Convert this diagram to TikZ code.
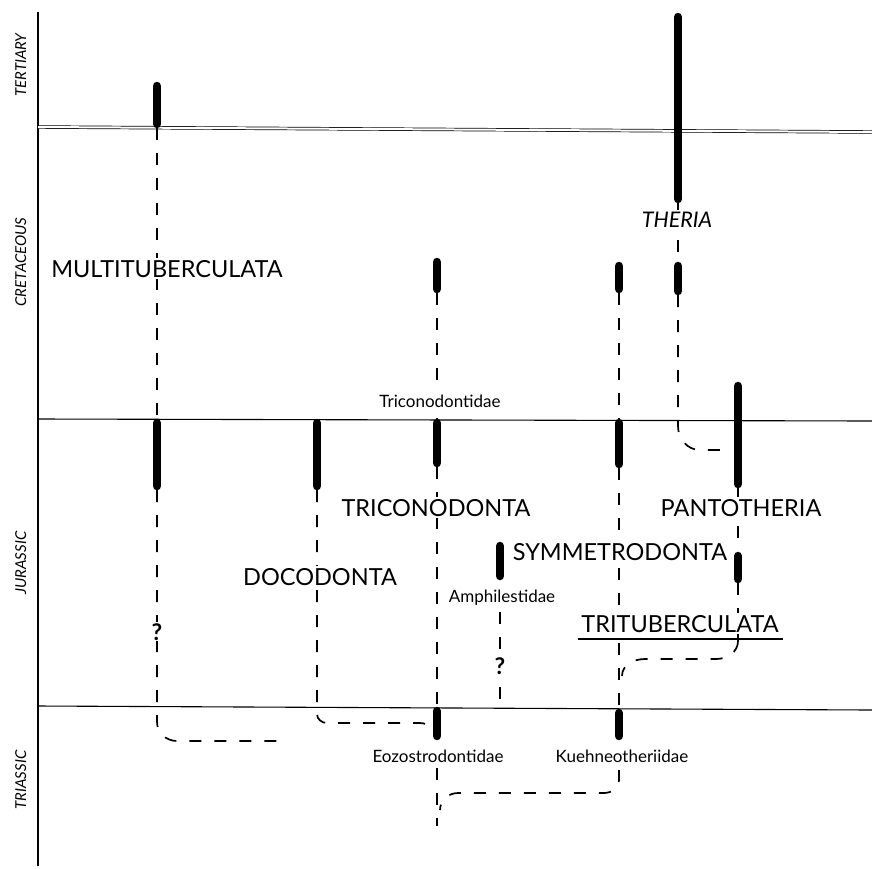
\documentclass[tikz,border=0pt]{standalone}
\usepackage{fontspec}
\setmainfont{Lato}
\usetikzlibrary{positioning}

\tikzset{
  bar/.style={line width=8.5pt, line cap=round},
  link/.style={line width=1.7pt, dash pattern=on 12pt off 13pt},
  era/.style={rotate=90, anchor=base, font=\fontsize{15}{17}\selectfont\itshape},
  taxon/.style={anchor=base, fill=white, inner sep=1.5pt, font=\fontsize{23.5}{27}\selectfont},
  family/.style={anchor=base, fill=white, inner sep=1.5pt, font=\fontsize{17}{19}\selectfont},
  query/.style={anchor=base, fill=white, inner sep=1pt, font=\fontsize{23}{25}\selectfont\bfseries}
}

\begin{document}
\begin{tikzpicture}[x=1pt, y=-1pt]
\useasboundingbox (0,0) rectangle (872,868);

% Time axis and period boundaries
\draw[line width=1.2pt] (38,12) -- (38,866);
\draw[double, double distance=2pt, line width=0.7pt] (38,127) -- (872,132);
\draw[line width=1.1pt] (38,419) -- (872,421);
\draw[line width=1.1pt] (38,706) -- (872,710);

% Periods
\node[era] (tert) at (26,65) {TERTIARY};
\node[era] (cret) at (26,262) {CRETACEOUS};
\node[era] (jura) at (26,563) {JURASSIC};
\node[era] (tria) at (26,780) {TRIASSIC};

% Dashed lineages
\foreach \x/\ya/\yb in {157/128/420, 437/293/420, 437/467/707, 437/768/826,
                        500/612/707, 619/293/420, 619/468/707, 678/203/228,
                        678/240/252, 738/488/500, 738/526/540, 738/583/641} {
    \draw[link] (\x,\ya) -- (\x,\yb);
}
\draw[link] (157,490) -- (157,722) to[out=-90,in=180] (177,741) -- (286,741);
\draw[link] (317,490) -- (317,714) to[out=-90,in=180] (327,723) -- (420,723) to[out=0,in=90] (435,737);
\draw[link] (619,770) -- (619,780) to[out=-90,in=0] (604,793) -- (458,793) to[out=180,in=90] (440,810);
\draw[link] (678,295) -- (678,426) to[out=-90,in=180] (700,450) -- (722,450);
\draw[link] (738,641) to[out=-90,in=0] (716,659) -- (645,659) to[out=180,in=90] (622,676);

% Known ranges
\foreach \x/\ya/\yb in {157/86/124, 678/17/199, 437/262/289, 619/266/289,
                        678/266/291, 738/386/484, 157/423/486, 317/423/486,
                        437/423/463, 619/423/464, 500/546/576, 738/556/579,
                        437/711/736, 619/713/736} {
    \draw[bar] (\x,\ya) -- (\x,\yb);
}

% Group names
\node[taxon] (multi) at (167,277) {MULTITUBERCULATA};
\node[taxon, font=\fontsize{21.5}{24}\selectfont\itshape] (theria) at (677,227) {THERIA};
\node[taxon] (tricon) at (436,516) {TRICONODONTA};
\node[taxon] (panto) at (741,516) {PANTOTHERIA};
\node[taxon] (doco) at (320,585) {DOCODONTA};
\node[taxon] (symm) at (620,560) {SYMMETRODONTA};
\node[taxon] (tritub) at (680,632) {TRITUBERCULATA};
\draw[line width=1.1pt] (578,639) -- (783,639);

% Families
\node[family] (triconid) at (440,407) {Triconodontidae};
\node[family] (amphil) at (502,602) {Amphilestidae};
\node[family] (eozo) at (438,762) {Eozostrodontidae};
\node[family] (kuehn) at (622,762) {Kuehneotheriidae};

% Uncertain links
\node[query] (q1) at (157,640) {?};
\node[query] (q2) at (500,674) {?};

\end{tikzpicture}
\end{document}
